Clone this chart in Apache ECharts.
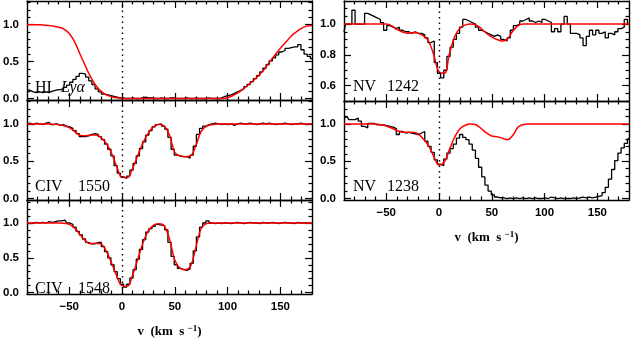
<!DOCTYPE html>
<html>
<head>
<meta charset="utf-8">
<script src="https://cdn.jsdelivr.net/npm/echarts@6/dist/echarts.min.js"></script>
<style>
  html, body { margin: 0; padding: 0; background: #fff; }
  #main { width: 632px; height: 339px; }
</style>
</head>
<body>
<div id="main"></div>
<script>
// velocity bins of the spectra (km/s) and grid of the model profiles
var binStart = -90, binStep = 3;
var modelStart = -90, modelStep = 5;

// tick values
var xMajor = [-50, 0, 50, 100, 150];
var xMinor = [-80, -70, -60, -40, -30, -20, -10, 10, 20, 30, 40, 60, 70, 80, 90, 110, 120, 130, 140, 160, 170];
var yMajorFull = [0, 0.5, 1.0];
var yMinorFull = [0.1, 0.2, 0.3, 0.4, 0.6, 0.7, 0.8, 0.9, 1.1, 1.2, 1.3];
var yMajorNV = [0.6, 0.8, 1.0];
var yMinorNV = [0.55, 0.65, 0.7, 0.75, 0.85, 0.9, 0.95, 1.05, 1.1];

// HI Lya
var hiFlux = [
  0.12, 0.11, 0.09, 0.08, 0.09, 0.08, 0.09, 0.08, 0.10, 0.11,
  0.12, 0.12, 0.15, 0.18, 0.22, 0.26, 0.30, 0.34, 0.33, 0.29,
  0.24, 0.19, 0.13, 0.09, 0.06, 0.05, 0.04, 0.03, 0.02, 0.01,
  0.01, 0.00, 0.00, 0.01, 0.00, 0.00, 0.01, 0.02, 0.01, 0.01,
  0.00, 0.00, 0.01, 0.00, 0.00, 0.01, 0.01, 0.00, 0.00, 0.00,
  0.01, 0.00, 0.00, 0.01, 0.00, 0.00, 0.00, 0.01, 0.00, 0.00,
  0.00, 0.01, 0.03, 0.04, 0.05, 0.07, 0.09, 0.11, 0.13, 0.16,
  0.19, 0.23, 0.27, 0.31, 0.36, 0.41, 0.46, 0.51, 0.55, 0.59,
  0.63, 0.65, 0.68, 0.69, 0.70, 0.70, 0.73, 0.66, 0.60, 0.57,
  0.54
];
var hiModel = [
  1.0, 1.0, 1.0, 0.995, 0.99, 0.98, 0.965, 0.94, 0.88, 0.77,
  0.61, 0.45, 0.30, 0.18, 0.10, 0.05, 0.025, 0.01, 0.0, 0.0,
  0.0, 0.0, 0.0, 0.0, 0.0, 0.0, 0.0, 0.0, 0.0, 0.0,
  0.0, 0.0, 0.0, 0.0, 0.0, 0.0, 0.0, 0.0, 0.01, 0.04,
  0.08, 0.13, 0.19, 0.25, 0.32, 0.40, 0.50, 0.59, 0.68, 0.76,
  0.84, 0.90, 0.95, 0.98, 0.99
];

// CIV 1550
var civ1550Flux = [
  1.00, 1.01, 0.99, 1.01, 1.00, 0.99, 1.01, 1.02, 0.99, 1.00,
  0.98, 0.99, 0.97, 0.96, 0.94, 0.91, 0.87, 0.83, 0.83, 0.84,
  0.86, 0.87, 0.86, 0.83, 0.79, 0.73, 0.66, 0.57, 0.44, 0.34,
  0.29, 0.27, 0.30, 0.38, 0.47, 0.57, 0.67, 0.76, 0.85, 0.91,
  0.96, 0.99, 1.00, 0.97, 0.93, 0.82, 0.66, 0.58, 0.57, 0.56,
  0.56, 0.54, 0.58, 0.70, 0.86, 0.94, 0.97, 0.99, 1.00, 1.01,
  1.00, 0.99, 1.00, 0.99, 1.00, 0.98, 1.00, 1.01, 1.00, 1.00,
  1.01, 1.00, 0.99, 1.00, 1.01, 1.00, 1.01, 1.00, 0.99, 1.00,
  1.00, 1.01, 1.00, 0.99, 1.00, 1.00, 1.01, 1.00, 0.99, 1.00,
  1.00
];
var civ1550Model = [
  1.0, 1.0, 1.0, 1.0, 1.0, 0.995, 0.99, 0.975, 0.95, 0.90,
  0.85, 0.84, 0.85, 0.85, 0.82, 0.74, 0.61, 0.43, 0.285, 0.28,
  0.40, 0.58, 0.75, 0.88, 0.96, 0.995, 0.97, 0.85, 0.62, 0.57,
  0.56, 0.57, 0.71, 0.90, 0.97, 0.99, 1.0, 1.0, 1.0, 1.0,
  1.0, 1.0, 1.0, 1.0, 1.0, 1.0, 1.0, 1.0, 1.0, 1.0,
  1.0, 1.0, 1.0, 1.0, 1.0
];

// CIV 1548
var civ1548Flux = [
  1.00, 0.99, 1.00, 1.01, 1.00, 1.01, 1.00, 1.02, 1.01, 1.02,
  1.03, 1.03, 1.04, 1.00, 0.98, 0.94, 0.88, 0.83, 0.77, 0.72,
  0.70, 0.70, 0.72, 0.72, 0.66, 0.59, 0.50, 0.40, 0.30, 0.20,
  0.12, 0.08, 0.12, 0.21, 0.33, 0.48, 0.62, 0.76, 0.87, 0.92,
  0.95, 0.98, 0.97, 0.96, 0.90, 0.72, 0.52, 0.40, 0.35, 0.33,
  0.32, 0.34, 0.42, 0.60, 0.80, 0.94, 1.00, 1.03, 1.00, 0.99,
  1.00, 0.99, 1.00, 1.00, 0.99, 1.00, 1.01, 1.00, 0.99, 1.00,
  1.01, 1.00, 1.00, 0.99, 1.01, 1.00, 1.00, 1.01, 1.00, 0.99,
  1.00, 1.01, 1.00, 1.00, 0.99, 1.01, 1.00, 1.00, 1.00, 1.00,
  0.99
];
var civ1548Model = [
  1.0, 1.0, 1.0, 1.0, 1.0, 1.0, 1.0, 0.995, 0.98, 0.93,
  0.84, 0.75, 0.70, 0.71, 0.70, 0.60, 0.43, 0.24, 0.10, 0.09,
  0.25, 0.48, 0.72, 0.89, 0.97, 0.99, 0.96, 0.77, 0.47, 0.35,
  0.33, 0.38, 0.65, 0.92, 0.99, 1.0, 1.0, 1.0, 1.0, 1.0,
  1.0, 1.0, 1.0, 1.0, 1.0, 1.0, 1.0, 1.0, 1.0, 1.0,
  1.0, 1.0, 1.0, 1.0, 1.0
];

// NV 1242
var nv1242Flux = [
  0.95, 1.00, 1.00, 1.09, 1.00, 1.00, 1.00, 1.07, 1.06, 1.05,
  1.04, 1.03, 1.01, 0.96, 0.99, 0.98, 0.97, 0.98, 0.96, 0.95,
  0.95, 0.94, 0.95, 0.94, 0.94, 0.93, 0.91, 0.88, 0.89, 0.75,
  0.68, 0.65, 0.70, 0.79, 0.85, 0.90, 0.94, 0.98, 1.03, 1.02,
  1.01, 1.00, 0.98, 0.96, 0.95, 0.94, 0.93, 0.92, 0.93, 0.92,
  0.90, 0.89, 0.91, 0.96, 0.99, 1.00, 1.02, 1.03, 1.04, 1.02,
  1.01, 1.02, 1.01, 1.03, 1.02, 1.01, 0.95, 0.97, 0.95, 1.00,
  1.05, 1.00, 0.94, 0.94, 0.93, 0.91, 0.86, 0.92, 0.96, 0.93,
  0.96, 0.94, 0.95, 0.91, 0.94, 0.93, 0.95, 0.97, 0.98, 1.03,
  1.00
];
var nv1242Model = [
  1.0, 1.0, 1.0, 1.0, 1.0, 1.0, 1.0, 1.0, 1.0, 0.99,
  0.965, 0.95, 0.94, 0.945, 0.94, 0.925, 0.89, 0.80, 0.69, 0.68,
  0.81, 0.92, 0.975, 0.995, 1.0, 0.995, 0.97, 0.94, 0.915, 0.90,
  0.89, 0.905, 0.955, 0.99, 1.0, 1.0, 1.0, 1.0, 1.0, 1.0,
  1.0, 1.0, 1.0, 1.0, 1.0, 1.0, 1.0, 1.0, 1.0, 1.0,
  1.0, 1.0, 1.0, 1.0, 1.0
];

// NV 1238
var nv1238Flux = [
  1.08, 1.10, 1.06, 1.06, 1.08, 1.04, 0.97, 0.95, 1.01, 1.01,
  0.99, 0.99, 0.99, 0.98, 0.97, 0.96, 0.94, 0.86, 0.90, 0.88,
  0.89, 0.88, 0.87, 0.86, 0.88, 0.90, 0.77, 0.70, 0.62, 0.52,
  0.46, 0.44, 0.53, 0.61, 0.67, 0.73, 0.81, 0.86, 0.82, 0.79,
  0.73, 0.65, 0.54, 0.42, 0.29, 0.18, 0.10, 0.05, 0.02, 0.01,
  0.01, 0.00, 0.01, 0.00, 0.01, 0.00, 0.01, 0.00, 0.01, 0.00,
  0.01, 0.00, 0.00, 0.01, 0.00, 0.02, 0.01, 0.00, 0.01, 0.00,
  0.00, 0.00, 0.01, 0.00, 0.01, 0.02, 0.01, 0.02, 0.01, 0.02,
  0.03, 0.04, 0.08, 0.15, 0.26, 0.39, 0.51, 0.61, 0.68, 0.74,
  0.80
];
var nv1238Model = [
  1.0, 1.0, 1.0, 1.0, 1.0, 1.0, 1.0, 0.99, 0.975, 0.945,
  0.915, 0.895, 0.89, 0.89, 0.87, 0.80, 0.71, 0.57, 0.45, 0.49,
  0.66, 0.83, 0.94, 0.985, 1.0, 0.99, 0.94, 0.88, 0.84, 0.83,
  0.81, 0.79, 0.85, 0.96, 0.995, 1.0, 1.0, 1.0, 1.0, 1.0,
  1.0, 1.0, 1.0, 1.0, 1.0, 1.0, 1.0, 1.0, 1.0, 1.0,
  1.0, 1.0, 1.0, 1.0, 1.0
];

function toPairs(start, step, arr) {
  return arr.map(function (y, i) { return [start + step * i, y]; });
}

var myChart = echarts.init(document.getElementById('main'), null, { renderer: 'canvas' });

var ink = '#000';
var tickFont = { color: ink, fontFamily: 'Liberation Sans', fontWeight: 'bold', fontSize: 11.5 };

// panel layout
var panels = [
  { grid: { left: 25, top: 1, width: 287, height: 99 }, flux: hiFlux, model: hiModel, yMin: -0.02, yMax: 1.32, yMajor: yMajorFull, yMinor: yMinorFull, xLabels: false },
  { grid: { left: 25, top: 100, width: 287, height: 100 }, flux: civ1550Flux, model: civ1550Model, yMin: -0.02, yMax: 1.32, yMajor: yMajorFull, yMinor: yMinorFull, xLabels: false },
  { grid: { left: 25, top: 200, width: 287, height: 102 }, flux: civ1548Flux, model: civ1548Model, yMin: -0.02, yMax: 1.33, yMajor: yMajorFull, yMinor: yMinorFull, xLabels: true },
  { grid: { left: 344, top: 1, width: 285, height: 100 }, flux: nv1242Flux, model: nv1242Model, yMin: 0.5, yMax: 1.15, yMajor: yMajorNV, yMinor: yMinorNV, xLabels: false },
  { grid: { left: 344, top: 101, width: 285, height: 99 }, flux: nv1238Flux, model: nv1238Model, yMin: -0.02, yMax: 1.31, yMajor: yMajorFull, yMinor: yMinorFull, xLabels: true }
];

var grids = [], xAxes = [], yAxes = [], series = [];

panels.forEach(function (p, g) {
  grids.push(p.grid);

  function xAx(pos, ticks, len, line, labels) {
    var ax = {
      gridIndex: g, type: 'value', min: -90, max: 180, position: pos,
      axisLine: { show: line, onZero: false, lineStyle: { color: ink, width: 1.4 } },
      axisTick: { show: true, inside: true, length: len, customValues: ticks, lineStyle: { color: ink, width: 1.2 } },
      axisLabel: { show: false },
      splitLine: { show: false }
    };
    if (labels) {
      ax.axisLabel = Object.assign({
        show: true, margin: 7, customValues: xMajor,
        formatter: function (v) { return v < 0 ? '\u2212' + Math.abs(v) : String(v); }
      }, tickFont);
      ax.name = 'v  (km  s {sup|\u22121})';
      ax.nameLocation = 'middle';
      ax.nameGap = 30;
      ax.nameTextStyle = {
        color: ink, fontFamily: 'Liberation Serif', fontWeight: 'bold', fontSize: 13,
        rich: { sup: { color: ink, fontFamily: 'Liberation Serif', fontWeight: 'bold', fontSize: 9, verticalAlign: 'top', padding: [0, 0, 6, 0] } }
      };
    }
    return ax;
  }
  function yAx(pos, ticks, len, line, labels) {
    var ax = {
      gridIndex: g, type: 'value', min: p.yMin, max: p.yMax, position: pos,
      axisLine: { show: line, onZero: false, lineStyle: { color: ink, width: 1.4 } },
      axisTick: { show: true, inside: true, length: len, customValues: ticks, lineStyle: { color: ink, width: 1.2 } },
      axisLabel: { show: false },
      splitLine: { show: false }
    };
    if (labels) {
      ax.axisLabel = Object.assign({
        show: true, margin: 8, customValues: p.yMajor,
        formatter: function (v) { return v.toFixed(1); }
      }, tickFont);
    }
    return ax;
  }

  xAxes.push(xAx('bottom', xMajor, 7, true, p.xLabels));
  xAxes.push(xAx('bottom', xMinor, 3.5, false, false));
  xAxes.push(xAx('top', xMajor, 7, true, false));
  xAxes.push(xAx('top', xMinor, 3.5, false, false));
  yAxes.push(yAx('left', p.yMajor, 7, true, true));
  yAxes.push(yAx('left', p.yMinor, 3.5, false, false));
  yAxes.push(yAx('right', p.yMajor, 7, true, false));
  yAxes.push(yAx('right', p.yMinor, 3.5, false, false));

  series.push({
    type: 'line', xAxisIndex: g * 4, yAxisIndex: g * 4,
    step: 'middle', symbol: 'none', silent: true,
    lineStyle: { color: ink, width: 1.3 },
    data: toPairs(binStart, binStep, p.flux),
    markLine: {
      silent: true, symbol: ['none', 'none'], label: { show: false },
      lineStyle: { color: ink, width: 1.4, type: [1.5, 4] },
      data: [{ xAxis: 0 }]
    }
  });
  series.push({
    type: 'line', xAxisIndex: g * 4, yAxisIndex: g * 4,
    smooth: 0.4, symbol: 'none', silent: true,
    lineStyle: { color: '#ff0000', width: 1.5 },
    data: toPairs(modelStart, modelStep, p.model)
  });
});

// line identifications
var labelFont = '16px "Liberation Serif"';
var tags = [
  { text: 'HI', left: 35, top: 80 },
  { text: 'Ly\u03b1', left: 61, top: 80, italic: true },
  { text: 'CIV', left: 35, top: 179 },
  { text: '1550', left: 78, top: 179 },
  { text: 'CIV', left: 35, top: 281 },
  { text: '1548', left: 78, top: 281 },
  { text: 'NV', left: 353, top: 79 },
  { text: '1242', left: 387, top: 79 },
  { text: 'NV', left: 353, top: 179 },
  { text: '1238', left: 387, top: 179 }
];

var option = {
  animation: false,
  backgroundColor: '#fff',
  grid: grids,
  xAxis: xAxes,
  yAxis: yAxes,
  series: series,
  graphic: tags.map(function (t) {
    return {
      type: 'text', left: t.left, top: t.top, silent: true, z: 10,
      style: { text: t.text, fill: ink, font: (t.italic ? 'italic ' : '') + labelFont }
    };
  })
};

myChart.setOption(option);
</script>
</body>
</html>
